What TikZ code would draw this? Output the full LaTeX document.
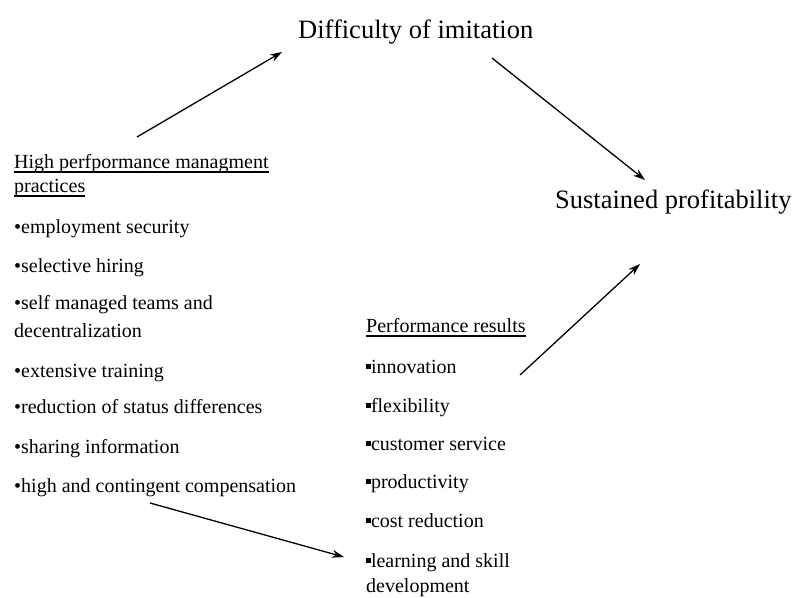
\documentclass[tikz,border=0pt]{standalone}
\usepackage{fontspec}
\setmainfont{Liberation Serif}
\usetikzlibrary{arrows.meta}
\newcommand{\sqbul}{\rule[0.2em]{0.24em}{0.24em}}
\begin{document}
\begin{tikzpicture}[x=1pt,y=-1pt,
  lt/.style={anchor=base west, inner sep=0pt, font=\fontsize{20}{24}\selectfont},
  big/.style={anchor=base west, inner sep=0pt, font=\fontsize{26.5}{32}\selectfont},
  ul/.style={line width=1.4pt},
  arr/.style={line width=1.3pt, -{Stealth[length=12pt,width=8pt]}}]
\useasboundingbox (0,0) rectangle (795,597);
% titles
\node[big] (dif) at (298,38) {Difficulty of imitation};
\node[big] (sus) at (555,208) {Sustained profitability};
% left column
\node[lt] (h1) at (14,168) {High perfpormance managment};
\node[lt] (h2) at (14,192) {practices};
\draw[ul] ([yshift=-4pt]h1.base west) -- ([yshift=-4pt]h1.base east);
\draw[ul] ([yshift=-4pt]h2.base west) -- ([yshift=-4pt]h2.base east);
\node[lt] (l1) at (14,233) {•employment security};
\node[lt] (l2) at (14,272) {•selective hiring};
\node[lt] (l3) at (14,309) {•self managed teams and};
\node[lt] (l3b) at (14,337) {decentralization};
\node[lt] (l4) at (14,377) {•extensive training};
\node[lt] (l5) at (14,413) {•reduction of status differences};
\node[lt] (l6) at (14,453) {•sharing information};
\node[lt] (l7) at (14,492) {•high and contingent compensation};
% right column
\node[lt] (p0) at (366,332) {Performance results};
\draw[ul] ([yshift=-4pt]p0.base west) -- ([yshift=-4pt]p0.base east);
\node[lt] (p1) at (366,373) {\sqbul innovation};
\node[lt] (p2) at (366,412) {\sqbul flexibility};
\node[lt] (p3) at (366,450) {\sqbul customer service};
\node[lt] (p4) at (366,488) {\sqbul productivity};
\node[lt] (p5) at (366,527) {\sqbul cost reduction};
\node[lt] (p6) at (366,567) {\sqbul learning and skill};
\node[lt] (p6b) at (366,592) {development};
% arrow end points
\coordinate (a1s) at (137,137);
\coordinate (a1e) at (282,52);
\coordinate (a2s) at (492,58);
\coordinate (a2e) at (645,180);
\coordinate (a3s) at (520,375);
\coordinate (a3e) at (640,264);
\coordinate (a4s) at (150,503);
\coordinate (a4e) at (344,557);
\draw[arr] (a1s) -- (a1e);
\draw[arr] (a2s) -- (a2e);
\draw[arr] (a3s) -- (a3e);
\draw[arr] (a4s) -- (a4e);
\end{tikzpicture}
\end{document}
